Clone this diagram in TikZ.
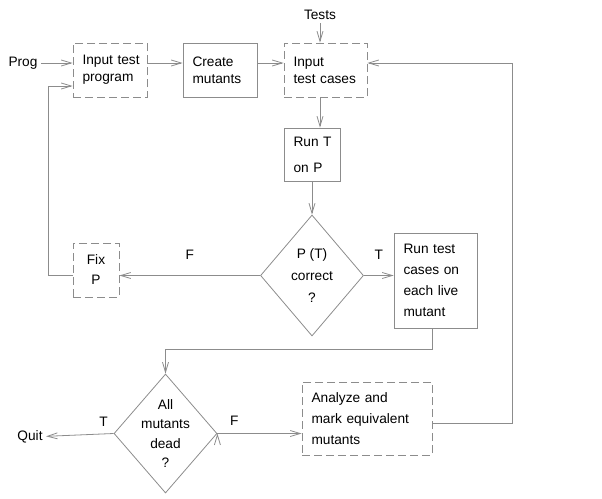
\documentclass[tikz,border=0pt]{standalone}
\usepackage{fontspec}
\setmainfont{Liberation Sans}
\usetikzlibrary{arrows.meta,shapes.geometric}
\definecolor{linegray}{HTML}{8C8C8C}

\begin{document}
\begin{tikzpicture}[x=1pt,y=-1pt,font=\fontsize{13.7}{17}\selectfont,
	box/.style={draw=linegray,line width=0.8pt,align=left,inner xsep=9.5pt,inner ysep=0pt},
	dbox/.style={box,dash pattern=on 8pt off 4pt},
	choice/.style={diamond,draw=linegray,line width=0.8pt,align=center,inner sep=-8pt,aspect=0.85},
	>={Straight Barb[length=10pt,width=6pt]}]
		\useasboundingbox (0,0) rectangle (602,498);
		%
		\node (prog) at (23,63) {Prog};
		\node (tests) at (320,15) {Tests};
		\node (quit) at (30,437) {Quit};
		%
		\node[dbox,minimum width=74,minimum height=54,text width=55] (inprog) at (110,70) {Input~test\\program};
		\node[box,minimum width=74,minimum height=54,text width=55] (create) at (220,70) {Create\\mutants};
		\node[dbox,minimum width=83,minimum height=54,text width=64] (incases) at (325.5,70) {Input\\test~cases};
		\node[box,minimum width=56,minimum height=53,text width=37,font=\fontsize{13.7}{26}\selectfont] (runtp) at (312,154.5) {Run~T\\on~P};
		\node[choice,minimum width=103,minimum height=121,font=\fontsize{13.7}{22}\selectfont] (ptc) at (312,275.5) {P (T)\\correct\\?};
		\node[dbox,minimum width=46,minimum height=54,inner xsep=0pt,align=center,font=\fontsize{13.7}{20}\selectfont] (fixp) at (96,270) {Fix\\P};
		\node[box,minimum width=83,minimum height=95,text width=64,font=\fontsize{13.7}{21}\selectfont] (runtest) at (435.5,280.5) {Run~test\\cases~on\\each~live\\mutant};
		\node[choice,minimum width=103,minimum height=119,font=\fontsize{13.7}{19.5}\selectfont] (amd) at (165.5,433.5) {All\\mutants\\dead\\?};
		\node[dbox,minimum width=130,minimum height=73,text width=111,font=\fontsize{13.7}{21}\selectfont] (analyze) at (367,418.5) {Analyze~and\\mark~equivalent\\mutants};
		%
		\coordinate (row) at (0,63);
		\coordinate (back) at (48,86);
		\coordinate (drop) at (432,349);
		\coordinate (loop) at (512,423);
		%
		\path[->,draw=linegray,line width=0.8pt]
		(prog.east) edge (inprog.west |- row)
		(inprog.east |- row) edge (create.west |- row)
		(create.east |- row) edge (incases.west |- row)
		(tests) edge (incases.north -| tests)
		(incases.south -| tests) edge (runtp.north -| tests)
		(runtp) edge (ptc)
		(ptc.west) edge node[above=12pt,black]{F} (ptc.west -| fixp.east)
		(ptc.east) edge node[above=12pt,black]{T} (ptc.east -| runtest.west)
		(amd.west) edge node[above=4pt,pos=0.15,black]{T} (quit)
		(amd.east) edge node[above=4pt,pos=0.2,black]{F} (amd.east -| analyze.west);
		%
		\draw[->,linegray,line width=0.8pt] (ptc.west -| fixp.west) -| (back) -- (inprog.west |- back);
		\draw[->,linegray,line width=0.8pt] (runtest.south -| drop) -- (drop) -| (amd.north);
		\draw[->,linegray,line width=0.8pt] (analyze.east |- loop) -| (row -| loop) -- (incases.east |- row);
		\end{tikzpicture}
\end{document}
